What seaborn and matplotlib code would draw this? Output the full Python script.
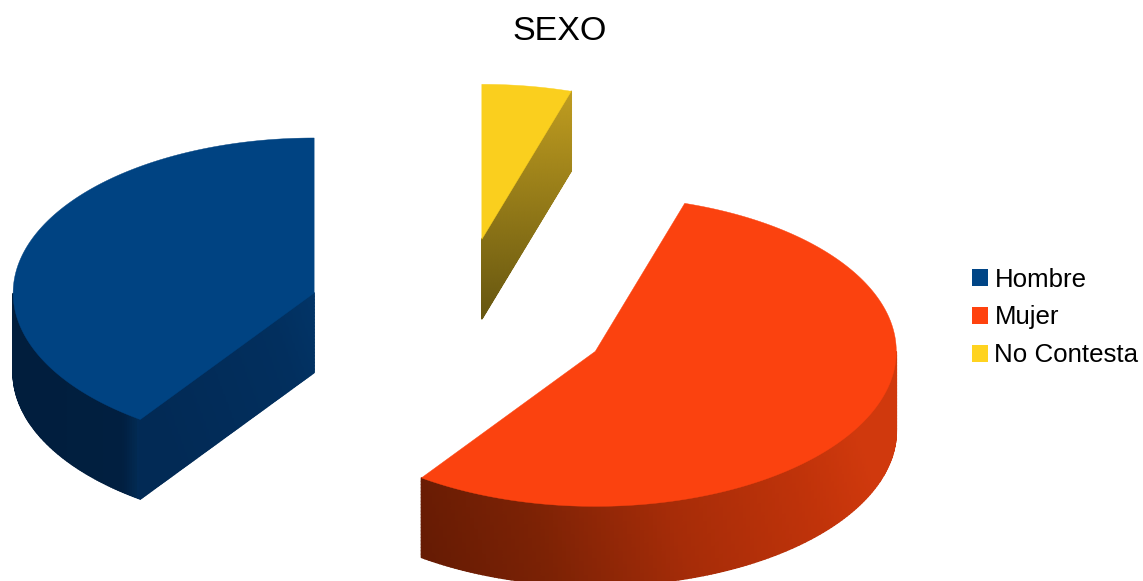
import numpy as np
import matplotlib
matplotlib.use("Agg")
import matplotlib.pyplot as plt
from matplotlib.collections import PolyCollection
from matplotlib.colors import LinearSegmentedColormap
from matplotlib.patches import Patch
import seaborn as sns

# Survey results, percent of respondents
categories = ["Hombre", "Mujer", "No Contesta"]
shares = [40.2, 55.0, 4.8]
legend_colors = ["#004586", "#ff420e", "#ffd320"]
top_colors = ["#004382", "#fb420f", "#facf1e"]
chart_title = "SEXO"

# Pie projection, in pixels of the canvas
WIDTH, HEIGHT = 1143, 581
CENTER_X, CENTER_Y = 459.0, 316.7
RADIUS_X, RADIUS_Y = 301.0, 155.0
DEPTH = 80.0
EXPLODE = 0.505

sns.set_theme(style="white", rc={"axes.edgecolor": "white"})
plt.rcParams["font.family"] = ["Liberation Sans", "DejaVu Sans"]
legend_palette = sns.color_palette(legend_colors)
top_palette = sns.color_palette(top_colors)


def ramp(stops):
    return LinearSegmentedColormap.from_list("ramp", stops, N=1024)


# Side shading per slice: wall colour ramp and the position along it
wall_ramps = [
    ramp([(0, "#011e3d"), (0.86, "#011f40"), (0.96, "#02284f"), (1, "#022d5a")]),
    ramp([(0, "#661b04"), (0.25, "#7c2205"), (0.55, "#a62c08"), (0.85, "#c0330a"), (1, "#d0390d")]),
    ramp([(0, "#6a5a12"), (1, "#bf9c1f")]),
]
face_ramps = [
    ramp([(0, "#022a55"), (0.6, "#022f5e"), (1, "#023a70")]),
    ramp([(0, "#661b04"), (1, "#661b04")]),
    ramp([(0, "#665610"), (1, "#c09d20")]),
]
wall_position = [
    lambda x, y: (x - 12) / 129,
    lambda x, y: (x - 421) / 474 - (y - 500) / 1400 + 0.03,
    lambda x, y: (x - 481) / 91,
]
face_position = [
    lambda x, y: (x - 141) / 174 * 0.7 + (375 - y) / 205 * 0.3,
    lambda x, y: 0.0 * x,
    lambda x, y: (320 - y) / 228,
]


def rim_point(cx, cy, angle):
    """Screen position of an angle measured counter-clockwise from twelve o'clock."""
    return cx - RADIUS_X * np.sin(angle), cy - RADIUS_Y * np.cos(angle)


def shaded_band(ax, xs, ys, cmap, position, rows=24):
    """Extrude a polyline downwards as a finely shaded band."""
    quads, tones = [], []
    steps = np.linspace(0, DEPTH - 0.5, rows + 1)
    for i in range(len(xs) - 1):
        for d0, d1 in zip(steps[:-1], steps[1:]):
            quad = [(xs[i], ys[i] + d0), (xs[i + 1], ys[i + 1] + d0),
                    (xs[i + 1], ys[i + 1] + d1), (xs[i], ys[i] + d1)]
            quads.append(quad)
            tones.append(position((xs[i] + xs[i + 1]) / 2, (ys[i] + ys[i + 1]) / 2 + (d0 + d1) / 2))
    shades = cmap(np.clip(tones, 0, 1))
    ax.add_collection(PolyCollection(quads, facecolors=shades, edgecolors=shades, linewidths=1.1))


fig = plt.figure(figsize=(WIDTH / 100, HEIGHT / 100), dpi=100, facecolor="white")
ax = fig.add_axes([0, 0, 1, 1])
ax.set_xlim(0, WIDTH)
ax.set_ylim(HEIGHT, 0)
ax.axis("off")

edges = np.radians(np.concatenate([[0], np.cumsum(shares)]) / sum(shares) * 360)

for i, share in enumerate(shares):
    start, end = edges[i], edges[i + 1]
    middle = (start + end) / 2
    cx = CENTER_X - EXPLODE * RADIUS_X * np.sin(middle)
    cy = CENTER_Y - EXPLODE * RADIUS_Y * np.cos(middle)
    arc = np.linspace(start, end, 240)

    # Curved wall: only the part of the rim on the near half of the ellipse
    near = arc[(arc >= np.pi / 2) & (arc <= 3 * np.pi / 2)]
    if near.size > 1:
        x, y = rim_point(cx, cy, near)
        shaded_band(ax, x, y, wall_ramps[i], wall_position[i])

    # Flat cut faces that turn towards the viewer
    for edge_angle, normal in ((end, end + np.pi / 2), (start, start - np.pi / 2)):
        if np.cos(normal) < -0.01:
            ex, ey = rim_point(cx, cy, edge_angle)
            fx = np.linspace(cx, ex, 120)
            fy = np.linspace(cy, ey, 120)
            shaded_band(ax, fx, fy, face_ramps[i], face_position[i])

    # Top of the slice
    x, y = rim_point(cx, cy, arc)
    ax.fill(np.r_[cx, x], np.r_[cy, y], color=top_palette[i], linewidth=0.3, zorder=3)

fig.text(560 / WIDTH, 1 - 31 / HEIGHT, chart_title, ha="center", va="center",
         fontsize=24.5, color="black")

handles = [Patch(facecolor=c, edgecolor="none", label=n) for c, n in zip(legend_palette, categories)]
legend = ax.legend(
    handles=handles, loc="center left", bbox_to_anchor=(971.5 / WIDTH, 1 - 317.5 / HEIGHT),
    bbox_transform=fig.transFigure, frameon=False, fontsize=18.6, borderpad=0, borderaxespad=0,
    handlelength=0.62, handleheight=0.62, handletextpad=0.27, labelspacing=0.54,
)
for text in legend.get_texts():
    text.set_color("black")

fig.savefig("out.png", dpi=100, facecolor="white")
